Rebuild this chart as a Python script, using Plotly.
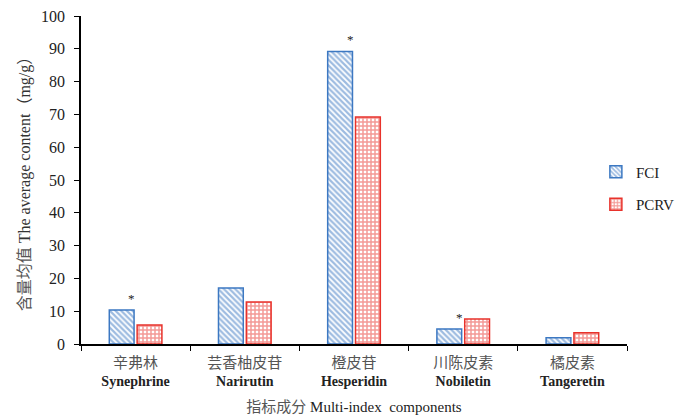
import plotly.graph_objects as go

categories_cn = ["辛弗林", "芸香柚皮苷", "橙皮苷", "川陈皮素", "橘皮素"]
categories_en = ["Synephrine", "Narirutin", "Hesperidin", "Nobiletin", "Tangeretin"]
fci = [10.4, 17.1, 89.2, 4.6, 1.9]
pcrv = [5.8, 12.8, 69.2, 7.6, 3.4]
star_idx = [0, 2, 3]
y_ticks = [0, 10, 20, 30, 40, 50, 60, 70, 80, 90, 100]

labels = [f"<span style='color:#555;font-size:15px'>{c}</span><br><b>{e}</b>"
          for c, e in zip(categories_cn, categories_en)]

BLUE = "#3c78c2"
RED = "#e8322b"
FONT = "Liberation Serif, Noto Sans CJK SC, serif"

fig = go.Figure()
fig.add_trace(go.Bar(
    x=labels, y=fci, name="FCI", legendgroup="a",
    marker=dict(color="white", line=dict(color=BLUE, width=1.5),
                pattern=dict(shape="\\", fgcolor=BLUE, size=4, solidity=0.55, fillmode="overlay")),
))
fig.add_trace(go.Bar(
    x=labels, y=pcrv, name="PCRV", legendgroup="b",
    marker=dict(color="white", line=dict(color=RED, width=1.5),
                pattern=dict(shape="+", fgcolor=RED, size=4, solidity=0.6, fillmode="overlay")),
))

for i in star_idx:
    fig.add_annotation(x=labels[i], y=fci[i], text="*", showarrow=False,
                       yanchor="bottom", yshift=2, xshift=-4,
                       font=dict(family=FONT, size=13, color="#222"))

fig.update_layout(
    width=683, height=416,
    margin=dict(l=81, r=56, t=16, b=72, autoexpand=False),
    paper_bgcolor="white", plot_bgcolor="white",
    barmode="group", bargap=0.49, bargroupgap=0.11,
    font=dict(family=FONT, size=14, color="#222"),
    legend=dict(x=0.943, xanchor="left", y=0.575, yanchor="top",
                font=dict(family=FONT, size=15, color="#222"),
                itemwidth=30, tracegroupgap=10, bgcolor="rgba(0,0,0,0)"),
    xaxis=dict(showline=True, linecolor="black", linewidth=1.5,
               ticks="outside", tickson="boundaries", ticklen=5, tickcolor="black",
               ticklabelstandoff=5,
               tickfont=dict(family=FONT, size=14, color="#222"),
               title=dict(text="<span style='color:#555'>指标成分</span> Multi-index  components",
                          font=dict(family=FONT, size=15, color="#222"), standoff=14)),
    yaxis=dict(range=[0, 100], tickvals=y_ticks, showline=True, linecolor="black",
               linewidth=1.5, ticks="outside", ticklen=5, tickcolor="black",
               ticklabelstandoff=6,
               showgrid=False, zeroline=False,
               tickfont=dict(family=FONT, size=16, color="#222"),
               title=dict(text="<span style='color:#555'>含量均值</span> The average content（mg/g）",
                          font=dict(family=FONT, size=16, color="#333"), standoff=6)),
)

fig.write_html("out.html")
